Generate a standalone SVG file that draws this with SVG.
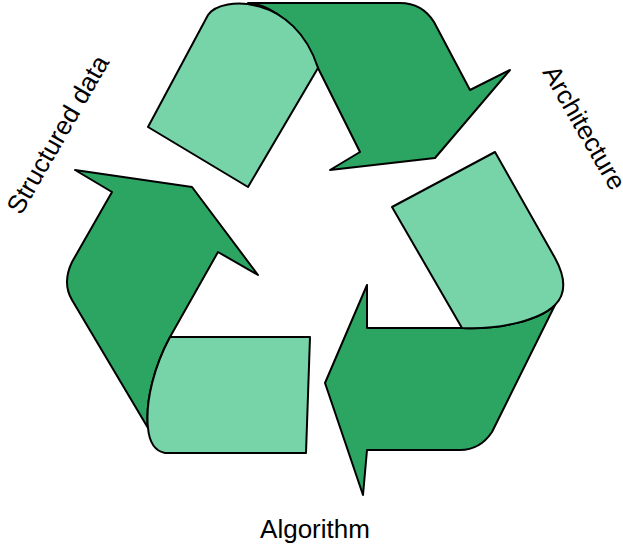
<svg xmlns="http://www.w3.org/2000/svg" width="623" height="545" viewBox="0 0 623 545">
<style>
.d{fill:#2ca562;stroke:#000;stroke-width:2;stroke-linejoin:round}
.l{fill:#77d4a8;stroke:#000;stroke-width:2;stroke-linejoin:round}
text{font-family:"Liberation Sans",Arial,sans-serif;font-size:26px;fill:#000}
</style>
<rect width="623" height="545" fill="#fff"/>
<g id="connectors"></g>
<g id="top">
<path class="d" d="M248,3 L400,3 Q422,3 434,22 L470,90 L510,70 L435,158 L330,170 L360,152 L318,68 C300,25 272,5 248,3 Z"/>
<path class="l" d="M148,127 L208,15 C222,-5 295,-5 318,68 L248,187 Z"/>
</g>
<g id="right">
<path class="d" d="M555,305 L492,432 Q480,450 460,450 L367,450 L363,495 L325,383 L367,285 L367,328 L462,328 C500,330 540,320 555,305 Z"/>
<path class="l" d="M392,207 L495,152 L555,258 C567,280 565,295 555,305 C540,320 500,330 462,328 Z"/>
</g>
<g id="left">
<path class="d" d="M75,170 L192,187 L258,275 L218,252 L170,337 C155,365 145,400 148,428 L72,300 Q62,283 72,262 L112,192 Z"/>
<path class="l" d="M170,337 L310,337 L306,453 L165,453 Q150,450 148,428 C145,400 155,365 170,337 Z"/>
</g>
<text transform="translate(21,216) rotate(-60)">Structured data</text>
<text transform="translate(542,72) rotate(60)" font-size="24">Architecture</text>
<text x="315" y="538" text-anchor="middle">Algorithm</text>
</svg>
